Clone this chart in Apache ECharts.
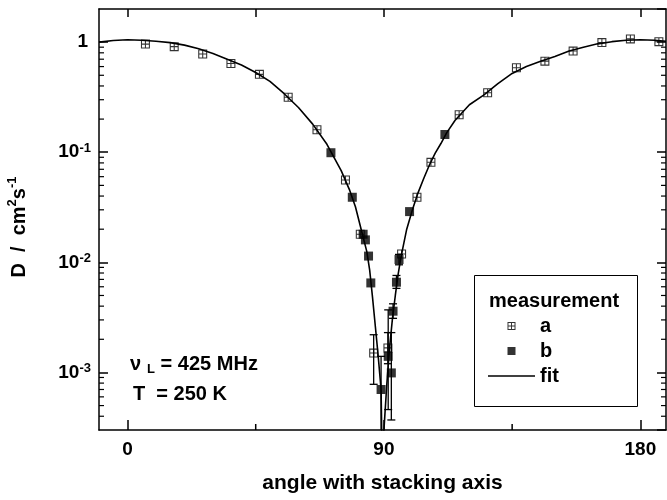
<!DOCTYPE html>
<html>
<head>
<meta charset="utf-8">
<script src="https://cdn.jsdelivr.net/npm/echarts@6/dist/echarts.min.js"></script>
<style>
  html, body { margin: 0; padding: 0; background: #fff; }
  #chart { width: 667px; height: 500px; }
</style>
</head>
<body>
<div id="chart"></div>
<script>
// measurement a (open crossed squares)
const aAngle = [6.3, 16.4, 26.4, 36.3, 46.3, 56.4, 66.5, 76.5, 81.7, 86.4, 91.4, 96.2,
  101.6, 106.5, 116.4, 126.4, 136.5, 146.5, 156.4, 166.5, 176.5, 186.5]
const aD = [0.96, 0.91, 0.78, 0.64, 0.51, 0.316, 0.16, 0.056, 0.018, 0.0015, 0.00167, 0.0119,
  0.039, 0.081, 0.219, 0.347, 0.585, 0.672, 0.83, 0.99, 1.07, 1.01]

// measurement b (filled squares)
const bAngle = [71.4, 78.9, 82.7, 83.5, 84.6, 85.4, 89.0, 91.5, 92.6, 93.2, 94.4, 95.3, 99.0, 111.4]
const bD = [0.099, 0.039, 0.018, 0.016, 0.0114, 0.0065, 0.0007, 0.0014, 0.00099, 0.0036, 0.0066, 0.0106, 0.0289, 0.145]

// error bars near the minimum
const errAngle = [86.4, 89.0, 91.4, 91.5, 92.6, 93.2, 94.4, 95.3]
const errLow = [0.00078, 0.0002, 0.0012, 0.00046, 0.00037, 0.0031, 0.0058, 0.0095]
const errHigh = [0.0022, 0.0014, 0.0023, 0.0037, 0.0023, 0.0042, 0.0076, 0.0118]

// fit curve
const fitAngle = [-10, -5, 0, 5, 10, 15, 20, 25, 30, 35, 40, 45, 50, 55, 60, 65, 70, 75, 78, 80,
  82, 84, 85, 86, 87, 88, 89, 89.5, 89.7, 90, 91, 92, 93, 94, 95, 96, 98, 100, 102, 104, 106,
  108, 110, 112, 115, 120, 125, 130, 135, 140, 145, 150, 155, 160, 165, 170, 175, 180, 185, 189]
const fitD = [1.0, 1.035, 1.05, 1.04, 1.02, 0.99, 0.94, 0.87, 0.79, 0.70, 0.62, 0.53, 0.44, 0.34,
  0.255, 0.18, 0.118, 0.068, 0.045, 0.032, 0.02, 0.0125, 0.0085, 0.0048, 0.0026, 0.0014, 0.0007,
  0.0001, 0.0002, 0.0003, 0.00077, 0.0017, 0.0031, 0.005, 0.0078, 0.0112, 0.02, 0.03, 0.043,
  0.058, 0.077, 0.098, 0.12, 0.15, 0.195, 0.27, 0.33, 0.42, 0.52, 0.60, 0.67, 0.74, 0.83, 0.90,
  0.965, 1.01, 1.04, 1.05, 1.04, 1.02]

// axis ticks
const xMajorTicks = [0, 90, 180]
const xTopTicks = [0, 45, 90, 135, 180]
const xMinorTicks = [45, 135]
const yMinorTicks = [4e-4, 5e-4, 6e-4, 7e-4, 8e-4, 9e-4,
  2e-3, 3e-3, 4e-3, 5e-3, 6e-3, 7e-3, 8e-3, 9e-3,
  2e-2, 3e-2, 4e-2, 5e-2, 6e-2, 7e-2, 8e-2, 9e-2,
  0.2, 0.3, 0.4, 0.5, 0.6, 0.7, 0.8, 0.9]

const FONT = '"Liberation Sans", Arial, sans-serif'
const crossBox = 'path://M0,0H10V1.2H0Z M0,8.8H10V10H0Z M0,0H1.2V10H0Z M8.8,0H10V10H8.8Z M4.4,0H5.6V10H4.4Z M0,4.4H10V5.6H0Z'
const square = 'path://M0,0H10V10H0Z'
const fitIcon = 'path://M0,0H47V1.6H0Z'

const zip = (xs, ys) => xs.map((x, i) => [x, ys[i]])

const chart = echarts.init(document.getElementById('chart'))

const bold = { fontFamily: FONT, fontWeight: 'bold', color: '#000' }
const gBold = { fontFamily: FONT, fontWeight: 'bold', fill: '#000' }
const frame = { onZero: false, lineStyle: { color: '#000', width: 1.5 } }

const option = {
  animation: false,
  grid: { left: 99, right: 1, top: 9, bottom: 70 },
  xAxis: [
    {
      type: 'value', position: 'bottom', min: -10, max: 189,
      axisLine: frame,
      axisTick: { inside: true, length: 10, customValues: xMajorTicks, lineStyle: { color: '#000', width: 1.5 } },
      axisLabel: { customValues: xMajorTicks, margin: 10, fontSize: 19, ...bold },
      splitLine: { show: false },
      name: 'angle with stacking axis',
      nameLocation: 'middle',
      nameGap: 43,
      nameTextStyle: { fontSize: 21, ...bold }
    },
    {
      type: 'value', position: 'top', min: -10, max: 189,
      axisLine: frame,
      axisTick: { inside: true, length: 8, customValues: xTopTicks, lineStyle: { color: '#000', width: 1.5 } },
      axisLabel: { show: false },
      splitLine: { show: false }
    }
  ],
  yAxis: [
    {
      type: 'log', position: 'left', min: 3e-4, max: 2, logBase: 10,
      axisLine: frame,
      axisTick: { inside: true, length: 9, lineStyle: { color: '#000', width: 1.5 } },
      axisLabel: {
        margin: 8,
        showMinLabel: false,
        showMaxLabel: false,
        formatter: v => {
          const e = Math.round(Math.log10(v))
          return e === 0 ? '{one|1}' : '{b|10}{e|' + e + '}'
        },
        rich: {
          one: { fontSize: 19, ...bold, padding: [0, 3, 0, 0] },
          b: { fontSize: 19, ...bold },
          e: { fontSize: 13, ...bold, verticalAlign: 'top', padding: [0, 0, 8, 0] }
        }
      },
      splitLine: { show: false }
    },
    {
      type: 'log', position: 'right', min: 3e-4, max: 2, logBase: 10,
      axisLine: frame,
      axisTick: { inside: true, length: 9, lineStyle: { color: '#000', width: 1.5 } },
      axisLabel: { show: false },
      splitLine: { show: false }
    }
  ],
  legend: {
    orient: 'vertical',
    left: 483,
    top: 311,
    padding: 5,
    itemWidth: 47,
    itemHeight: 8,
    itemGap: 5,
    selectedMode: false,
    textStyle: { fontSize: 20, lineHeight: 20, ...bold },
    data: [
      { name: 'a', icon: crossBox },
      { name: 'b', icon: square },
      { name: 'fit', icon: fitIcon }
    ]
  },
  graphic: [
    {
      type: 'rect', left: 472, top: 273, z: 0,
      shape: { width: 163, height: 131 },
      style: { fill: 'none', stroke: '#000', lineWidth: 1 }
    },
    {
      type: 'text', x: 489, y: 301,
      style: { text: 'measurement', fontSize: 20, ...gBold, verticalAlign: 'middle' }
    },
    {
      type: 'text', x: 130, y: 364,
      style: {
        text: '{v|\u03bd}{l|L}{v| = 425 MHz}',
        verticalAlign: 'middle',
        rich: {
          v: { fontSize: 20, ...gBold, lineHeight: 24 },
          l: { fontSize: 13, ...gBold, verticalAlign: 'bottom', lineHeight: 24, padding: [0, 0, 0, 6] }
        }
      }
    },
    {
      type: 'text', x: 133, y: 394,
      style: { text: 'T  = 250 K', fontSize: 20, ...gBold, verticalAlign: 'middle' }
    },
    {
      // y axis title, rotated
      type: 'text', x: 19, y: 227, rotation: Math.PI / 2,
      style: {
        text: '{t|D  /  cm}{s|2}{t|s}{s|-1}',
        align: 'center',
        verticalAlign: 'middle',
        rich: {
          t: { fontSize: 20, ...gBold, lineHeight: 26 },
          s: { fontSize: 13, ...gBold, verticalAlign: 'top', lineHeight: 26 }
        }
      }
    }
  ],
  series: [
    {
      name: 'fit',
      type: 'line',
      data: zip(fitAngle, fitD),
      showSymbol: false,
      symbol: 'none',
      smooth: false,
      clip: true,
      lineStyle: { color: '#000', width: 1.6 },
      itemStyle: { color: '#000' },
      z: 2
    },
    {
      name: 'errors',
      type: 'custom',
      data: errAngle.map((x, i) => [x, errLow[i], errHigh[i]]),
      encode: { x: 0, y: [1, 2] },
      silent: true,
      z: 2,
      renderItem: (params, api) => {
        const cs = params.coordSys
        const bottom = cs.y + cs.height
        const hi = api.coord([api.value(0), api.value(2)])
        const lo = api.coord([api.value(0), api.value(1)])
        const x = hi[0]
        const yLo = Math.min(lo[1], bottom)
        const style = { stroke: '#000', lineWidth: 1.3 }
        const kids = [
          { type: 'line', shape: { x1: x, y1: hi[1], x2: x, y2: yLo }, style },
          { type: 'line', shape: { x1: x - 4, y1: hi[1], x2: x + 4, y2: hi[1] }, style }
        ]
        if (lo[1] < bottom) {
          kids.push({ type: 'line', shape: { x1: x - 4, y1: lo[1], x2: x + 4, y2: lo[1] }, style })
        }
        return { type: 'group', children: kids }
      }
    },
    {
      name: 'a',
      type: 'scatter',
      data: zip(aAngle, aD),
      symbol: crossBox,
      symbolSize: 9,
      symbolKeepAspect: true,
      itemStyle: { color: '#000' },
      z: 3
    },
    {
      name: 'b',
      type: 'scatter',
      data: zip(bAngle, bD),
      symbol: square,
      symbolSize: 9,
      itemStyle: { color: '#000' },
      z: 4
    },
    {
      name: 'yMinor',
      type: 'custom',
      data: yMinorTicks.map(v => [0, v]),
      silent: true,
      clip: false,
      z: 5,
      renderItem: (params, api) => {
        const cs = params.coordSys
        const y = api.coord([0, api.value(1)])[1]
        const style = { stroke: '#000', lineWidth: 1.2 }
        return {
          type: 'group',
          children: [
            { type: 'line', shape: { x1: cs.x, y1: y, x2: cs.x + 5, y2: y }, style },
            { type: 'line', shape: { x1: cs.x + cs.width - 5, y1: y, x2: cs.x + cs.width, y2: y }, style }
          ]
        }
      }
    },
    {
      name: 'xMinor',
      type: 'custom',
      data: xMinorTicks.map(v => [v, 1]),
      silent: true,
      clip: false,
      z: 5,
      renderItem: (params, api) => {
        const cs = params.coordSys
        const x = api.coord([api.value(0), 1])[0]
        const bottom = cs.y + cs.height
        return {
          type: 'line',
          shape: { x1: x, y1: bottom, x2: x, y2: bottom - 6 },
          style: { stroke: '#000', lineWidth: 1.5 }
        }
      }
    }
  ]
}

chart.setOption(option)
</script>
</body>
</html>
